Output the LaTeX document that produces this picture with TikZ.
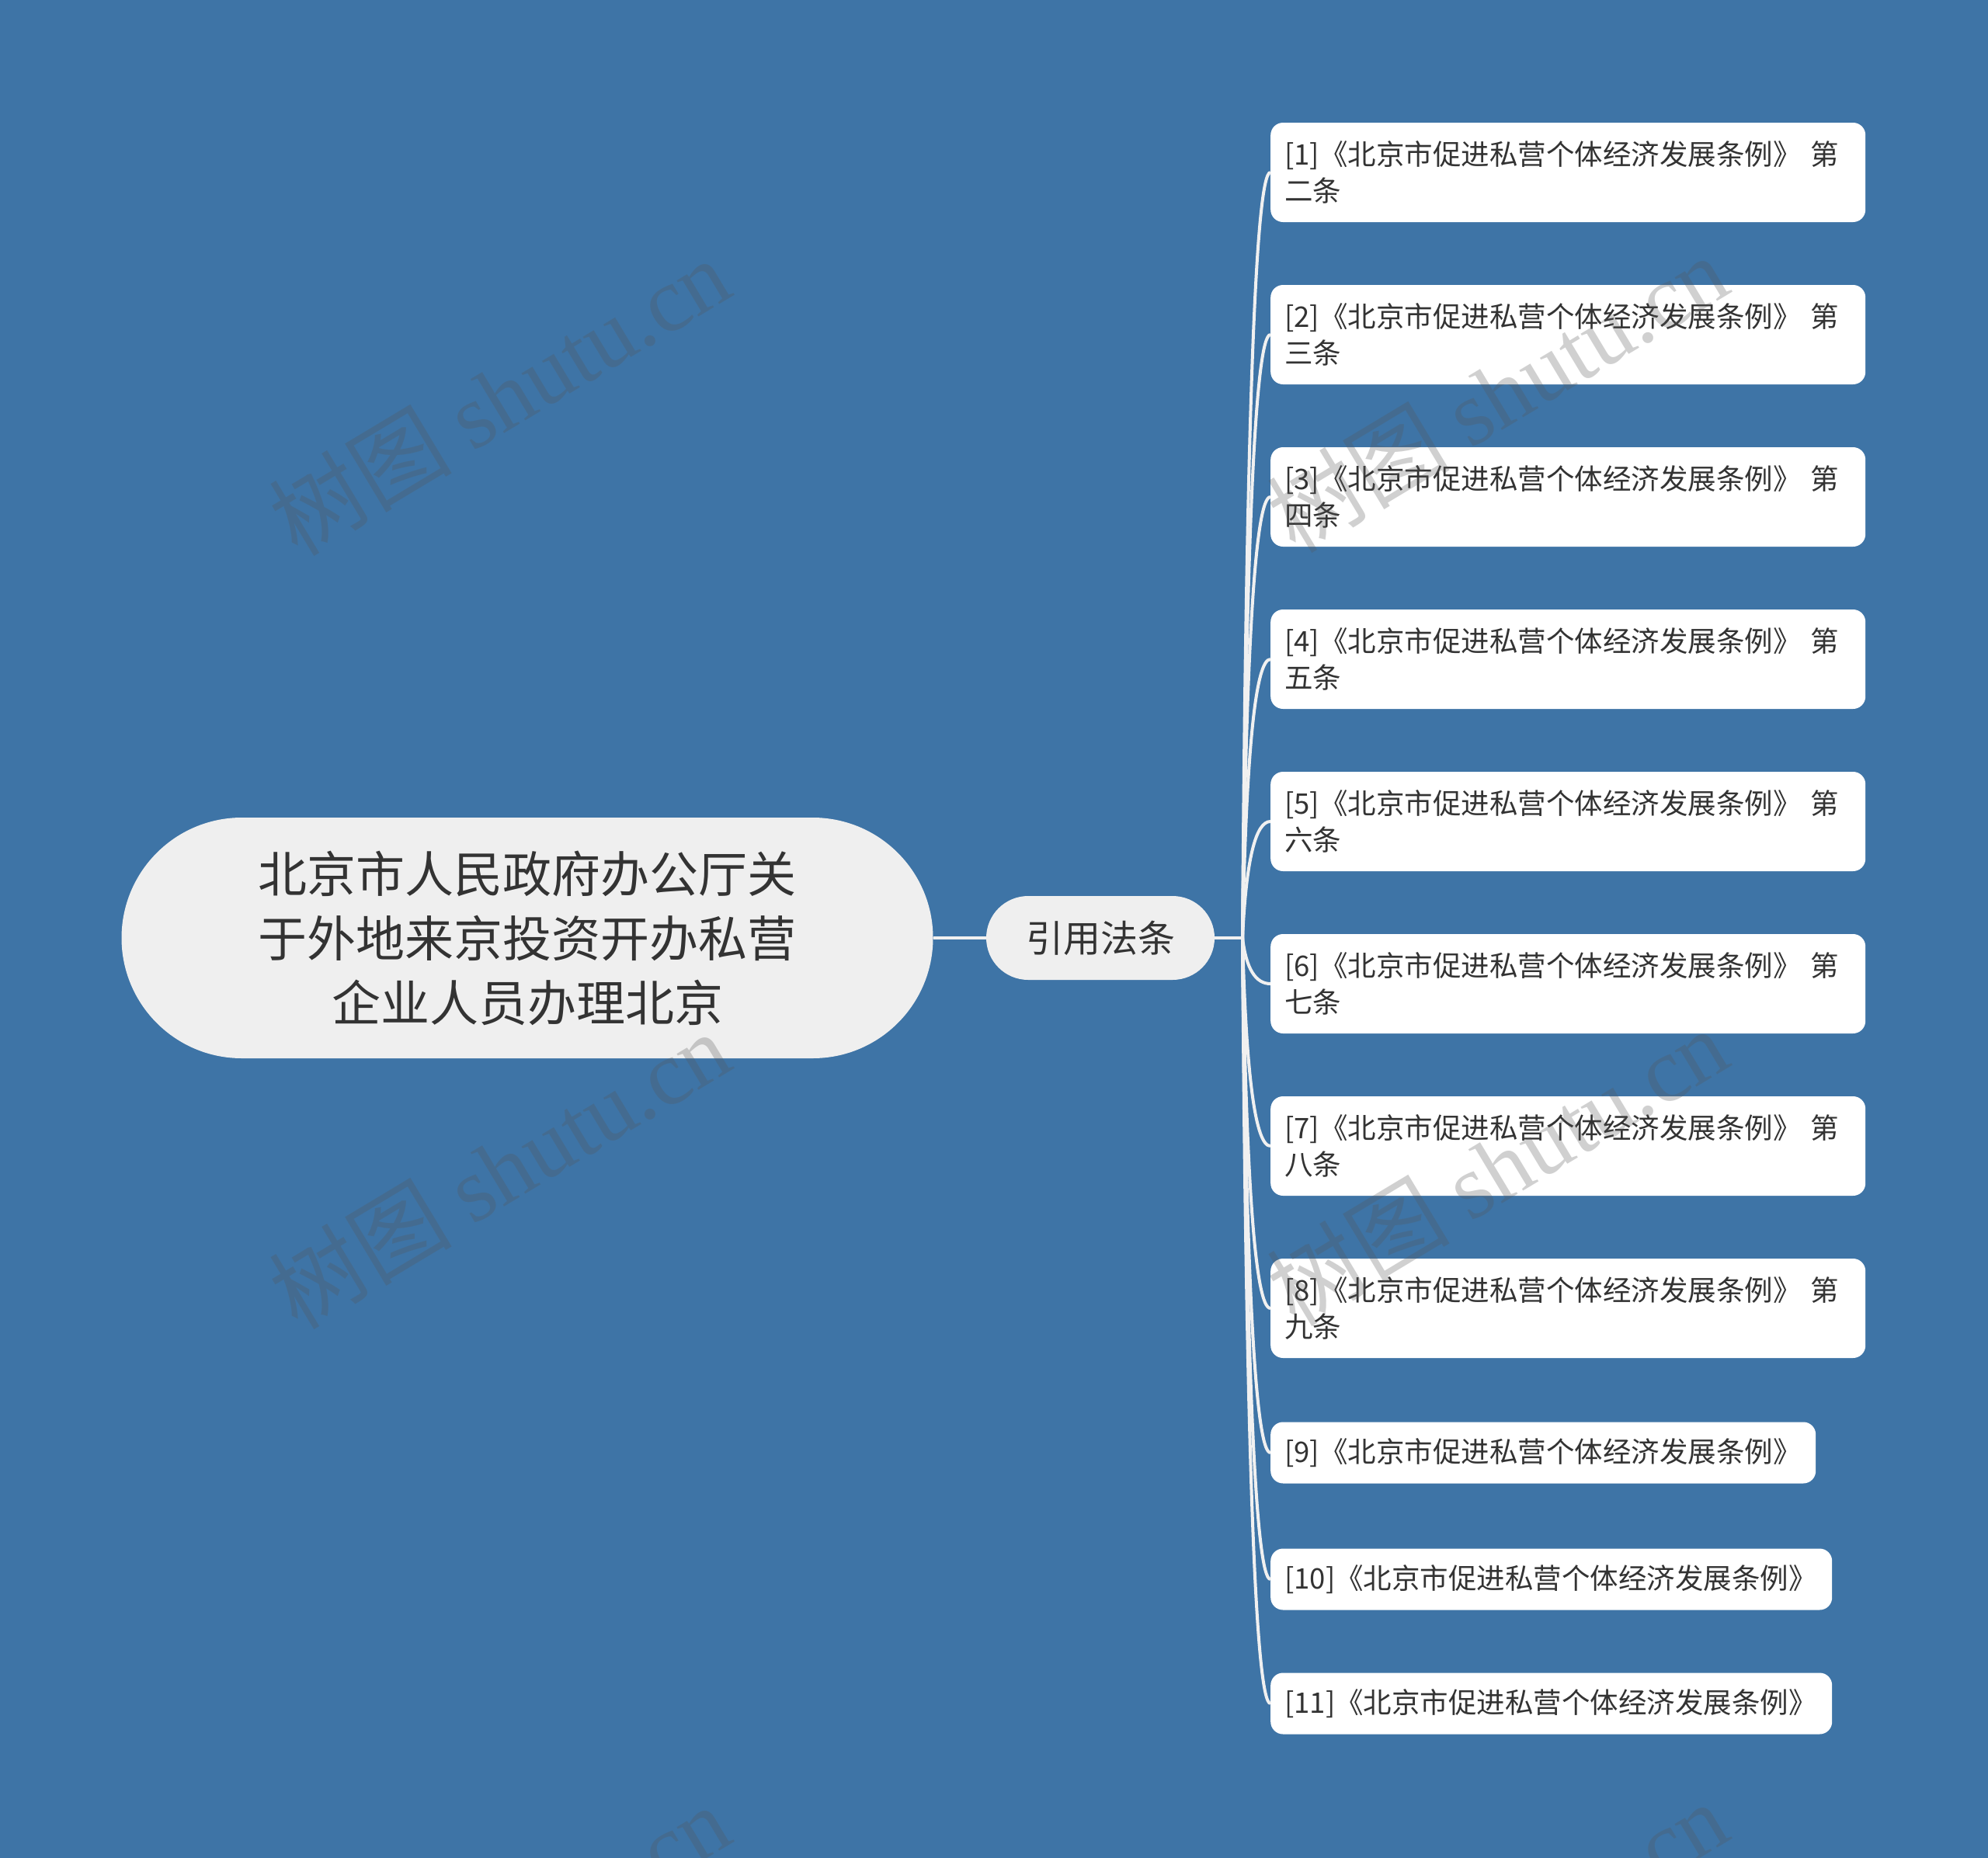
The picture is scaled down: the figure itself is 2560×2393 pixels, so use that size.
\documentclass[tikz,border=0pt]{standalone}
\usepackage{fontspec}
\setmainfont{Noto Sans CJK SC}
\newfontfamily\wmlatin{Liberation Serif}
\usetikzlibrary{calc}
\definecolor{bgblue}{RGB}{62,116,166}
\definecolor{rootfill}{RGB}{239,239,239}
\definecolor{txt}{RGB}{51,51,51}
\definecolor{linec}{RGB}{240,240,240}
\definecolor{wmgray}{RGB}{87,87,87}
\begin{document}
\begin{tikzpicture}[x=1pt,y=-1pt,
  rootbox/.style={fill=rootfill, text=txt, rounded corners=155pt, minimum width=1045pt, minimum height=310pt, inner sep=0pt, align=center, font=\fontsize{63}{83}\selectfont},
  midbox/.style={fill=rootfill, text=txt, rounded corners=54pt, minimum width=294pt, minimum height=108pt, inner sep=0pt, align=center, font=\fontsize{48}{56}\selectfont},
  leafbox/.style={fill=white, text=txt, rounded corners=16pt, anchor=west, inner xsep=18pt, inner ysep=0pt, align=left, font=\fontsize{36.5}{47}\selectfont},
  twoline/.style={leafbox, text width=730pt, minimum height=128pt},
  oneline/.style={leafbox, minimum height=79pt},
  conn/.style={draw=linec, line width=4pt},
  wm/.style={text=wmgray, opacity=0.28, rotate=31, font=\fontsize{118}{130}\selectfont}
]
\useasboundingbox (0,0) rectangle (2560,2393);
\clip (0,0) rectangle (2560,2393);
\fill[bgblue] (0,0) rectangle (2560,2393);

\node[rootbox] (root) at (679,1208) {北京市人民政府办公厅关\\于外地来京投资开办私营\\企业人员办理北京};
\node[midbox] (mid) at (1417,1208) {引用法条};
\coordinate (hub) at (1600,1208);
\coordinate (hubr) at (1607,1208);

\node[twoline] (l1) at (1636,222) {[1]《北京市促进私营个体经济发展条例》 第\\二条};
\node[twoline] (l2) at (1636,431) {[2]《北京市促进私营个体经济发展条例》 第\\三条};
\node[twoline] (l3) at (1636,640) {[3]《北京市促进私营个体经济发展条例》 第\\四条};
\node[twoline] (l4) at (1636,849) {[4]《北京市促进私营个体经济发展条例》 第\\五条};
\node[twoline] (l5) at (1636,1058) {[5]《北京市促进私营个体经济发展条例》 第\\六条};
\node[twoline] (l6) at (1636,1267) {[6]《北京市促进私营个体经济发展条例》 第\\七条};
\node[twoline] (l7) at (1636,1476) {[7]《北京市促进私营个体经济发展条例》 第\\八条};
\node[twoline] (l8) at (1636,1685) {[8]《北京市促进私营个体经济发展条例》 第\\九条};
\node[oneline, text width=666pt] (l9) at (1636,1871) {[9]《北京市促进私营个体经济发展条例》};
\node[oneline, text width=687pt] (l10) at (1636,2034) {[10]《北京市促进私营个体经济发展条例》};
\node[oneline, text width=687pt] (l11) at (1636,2194) {[11]《北京市促进私营个体经济发展条例》};

\draw[conn] (root.east) -- (mid.west);
\draw[conn] (mid.east) -- (hub);
\foreach \i in {1,...,11}{
  \draw[conn] (hub) .. controls ($(hub)!0.6667!(hubr |- l\i.west)$) and ($(l\i.west)!0.6667!(hubr |- l\i.west)$) .. (l\i.west);
}

\foreach \p in {(643,510),(643,1506),(643,2502),(1928,506),(1928,1502),(1928,2498)}{
  \node[wm] at \p {树图 {\wmlatin shutu.cn}};
}
\end{tikzpicture}
\end{document}
